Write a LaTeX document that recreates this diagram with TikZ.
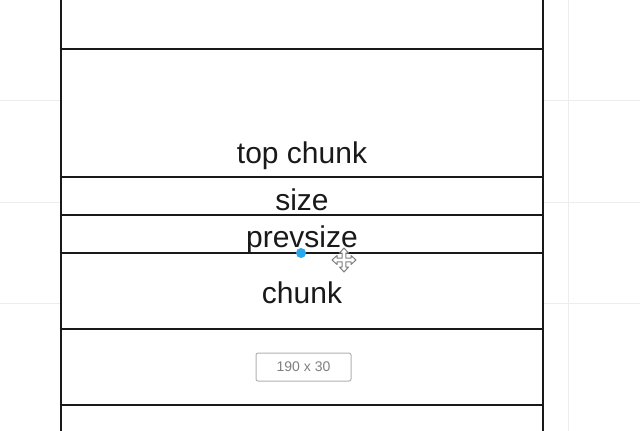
\documentclass[tikz,border=0pt]{standalone}
\usepackage{fontspec}
\setmainfont{Liberation Sans}
\usepackage{xcolor}
\definecolor{GridGray}{rgb}{0.93,0.93,0.93}
\definecolor{LineBlack}{rgb}{0.1,0.1,0.1}
\definecolor{HandleBlue}{rgb}{0.16,0.66,0.93}
\definecolor{TipGray}{rgb}{0.5,0.5,0.5}

\tikzset{
  cellline/.style={LineBlack, line width=2.8pt},
  celllabel/.style={anchor=base, inner sep=0.75pt, text=LineBlack, font=\fontsize{30}{30}\selectfont},
}

\begin{document}
\begin{tikzpicture}[x=1pt,y=1pt,yscale=-1,xscale=1]
		\useasboundingbox (0,0) rectangle (640,431);
		\clip (0,0) rectangle (640,431);
		\fill[white] (0,0) rectangle (640,431);

		% Faint grid of the editor canvas
		\draw[GridGray, line width=1pt] (568,0) -- (568,431);
		\foreach \y in {100,202,303}
			\draw[GridGray, line width=1pt] (0,\y) -- (640,\y);

		% The column of cells
		\fill[white] (61,-10) rectangle (543,441);
		\draw[cellline] (61,-10) -- (61,441);
		\draw[cellline] (543,-10) -- (543,441);
		\foreach \y in {49,177,215,253,329,405}
			\draw[cellline] (59.6,\y) -- (544.4,\y);

		% Cell labels
		\node[celllabel] (topchunk) at (302,163) {top chunk};
		\node[celllabel] (size) at (302,210) {size};
		\node[celllabel] (prevsize) at (302,247) {prevsize};
		\node[celllabel] (chunk) at (302,303) {chunk};

		% Size tooltip
		\node[draw=TipGray!60, line width=1pt, rounded corners=2pt, fill=white, minimum width=95pt, minimum height=28pt, inner sep=0pt, text=TipGray, font=\fontsize{14}{14}\selectfont] (dims) at (303.5,367) {190 x 30};

		% Blue handle on the selected line
		\node[circle, fill=HandleBlue, inner sep=0pt, minimum size=10pt] (handle) at (301,253) {};

		% Move cursor
		\draw[TipGray, fill=white, line width=1pt, line join=round, shift={(344,260)}]
		(0,-12) -- (4.5,-7) -- (1.8,-7) -- (1.8,-1.8) -- (7,-1.8) -- (7,-4.5) -- (12,0) -- (7,4.5) -- (7,1.8) -- (1.8,1.8) -- (1.8,7) -- (4.5,7) -- (0,12) -- (-4.5,7) -- (-1.8,7) -- (-1.8,1.8) -- (-7,1.8) -- (-7,4.5) -- (-12,0) -- (-7,-4.5) -- (-7,-1.8) -- (-1.8,-1.8) -- (-1.8,-7) -- (-4.5,-7) -- cycle;
	\end{tikzpicture}
\end{document}
